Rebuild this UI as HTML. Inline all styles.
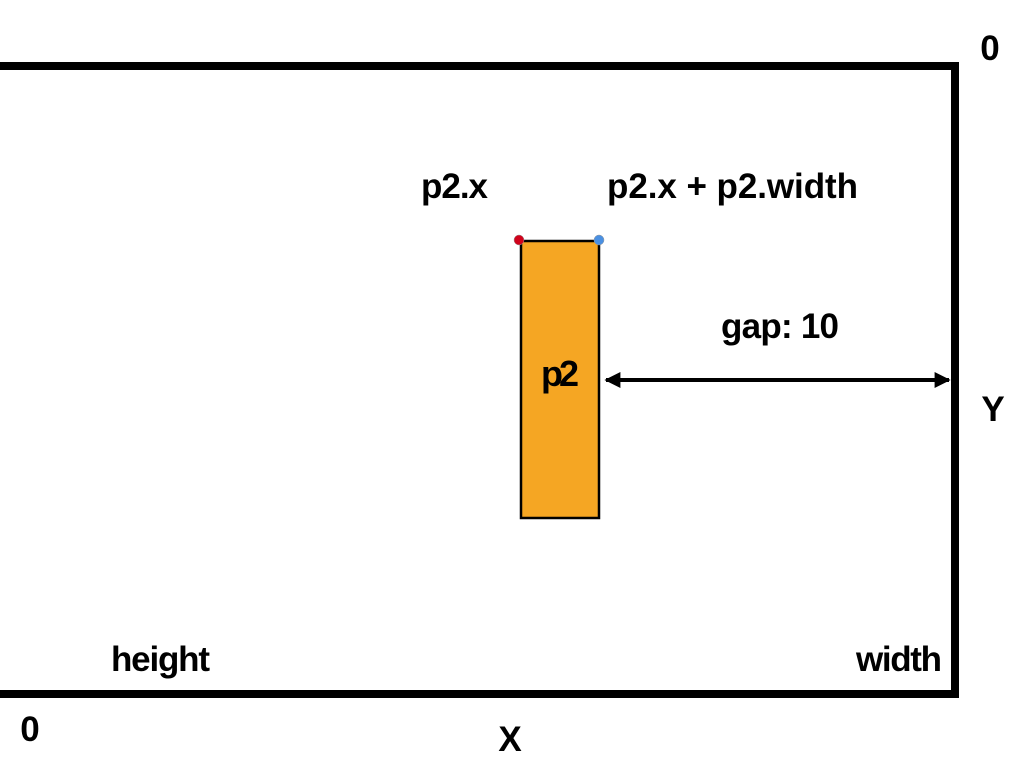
<!DOCTYPE html>
<html><head><meta charset="utf-8"><style>
html,body{margin:0;padding:0;background:#fff;width:1024px;height:768px;overflow:hidden}
text{font-family:"Liberation Sans Narrow","Liberation Sans",sans-serif;font-weight:bold;fill:#000}
</style></head><body>
<svg width="1024" height="768" viewBox="0 0 1024 768">
<defs>
<marker id="ah" viewBox="0 0 10 10" refX="9" refY="5" markerWidth="6" markerHeight="4" orient="auto-start-reverse"><path d="M0,0 L10,5 L0,10 z" fill="#000"/></marker>
</defs>
<rect x="-10" y="66" width="965" height="628" fill="none" stroke="#000" stroke-width="8"/>
<rect x="521" y="241" width="78" height="277" fill="#F5A623" stroke="#000" stroke-width="2.5"/>
<circle cx="519" cy="240" r="5" fill="#D0021B" stroke="#999" stroke-width="0.5"/>
<circle cx="599" cy="240" r="5" fill="#4A90E2" stroke="#999" stroke-width="0.5"/>
<line x1="606" y1="380" x2="949" y2="380" stroke="#000" stroke-width="4" marker-start="url(#ah)" marker-end="url(#ah)"/>
<text x="541" y="386" font-size="36" textLength="38">p2</text>
<text x="721" y="338" font-size="35" textLength="118">gap: 10</text>
<text x="421" y="198" font-size="35" textLength="67">p2.x</text>
<text x="607" y="198" font-size="35" textLength="251">p2.x + p2.width</text>
<text x="990" y="60" font-size="35" text-anchor="middle">0</text>
<text x="993" y="421" font-size="35" text-anchor="middle">Y</text>
<text x="111" y="671" font-size="35" textLength="99">height</text>
<text x="856" y="671" font-size="35" textLength="86">width</text>
<text x="30" y="741" font-size="35" text-anchor="middle">0</text>
<text x="510" y="751" font-size="35" text-anchor="middle">X</text>
</svg>
</body></html>
